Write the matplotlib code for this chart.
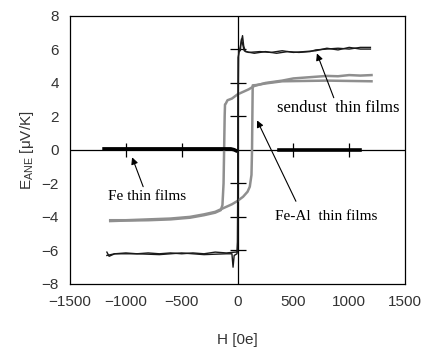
import matplotlib.pyplot as plt

plt.rcParams['font.family'] = ['Liberation Sans', 'DejaVu Sans']
plt.rcParams['mathtext.fontset'] = 'custom'
plt.rcParams['mathtext.rm'] = 'Liberation Sans'

# ---- data (H in Oe, E in uV/K) ----
# Fe thin films: flat near zero
fe_h_neg = [-1195, -1000, -800, -600, -400, -200, -60, -30, -15]
fe_e_neg = [0.05, 0.05, 0.05, 0.05, 0.05, 0.05, 0.05, 0.0, -0.05]
fe_h_pos = [370, 500, 700, 800, 900, 1000, 1100]
fe_e_pos = [0.0, 0.0, 0.0, 0.0, 0.0, 0.0, 0.0]

# sendust thin films, two branches
sd_up_h = [-1170, -1150, -1100, -1000, -900, -800, -700, -600, -500, -400, -300,
           -200, -100, -20, -5, 0, 5, 20, 45, 55, 70, 150, 250, 350, 450, 550,
           650, 700, 800, 900, 1000, 1100, 1190]
sd_up_e = [-6.1, -6.35, -6.2, -6.15, -6.2, -6.15, -6.2, -6.15, -6.2, -6.15, -6.2,
           -6.1, -6.15, -6.1, -6.1, -5.5, 5.5, 6.0, 6.8, 6.2, 5.85, 5.75, 5.85,
           5.75, 5.85, 5.8, 5.85, 5.95, 6.0, 6.05, 6.0, 6.1, 6.1]
sd_dn_h = [1190, 1100, 1000, 900, 800, 700, 600, 500, 400, 300, 200, 100, 60,
           35, 25, 10, 5, 0, -5, -30, -40, -50, -100, -300, -500, -700, -900,
           -1100, -1170]
sd_dn_e = [6.0, 6.0, 6.1, 5.95, 6.05, 5.9, 5.85, 5.8, 5.9, 5.8, 5.85, 5.8, 5.9,
           6.6, 5.9, 5.9, 2.0, -6.0, -6.2, -6.3, -7.0, -6.2, -6.2, -6.25, -6.15,
           -6.25, -6.2, -6.2, -6.3]

# Fe-Al thin films, hysteresis loop
fa_dn_h = [1200, 1100, 1000, 900, 800, 700, 600, 500, 400, 250, 150, 100, 50, 0,
           -50, -90, -105, -112, -115, -120, -125, -135, -150, -200, -300, -425,
           -600, -800, -1000, -1140]
fa_dn_e = [4.45, 4.42, 4.45, 4.38, 4.4, 4.35, 4.3, 4.25, 4.12, 3.98, 3.8, 3.6,
           3.45, 3.3, 3.05, 2.95, 2.75, 2.7, 2.0, 0.0, -2.0, -3.3, -3.6, -3.75,
           -3.9, -4.05, -4.15, -4.2, -4.22, -4.25]
fa_up_h = [-1140, -1000, -800, -600, -425, -300, -200, -150, -100, -50, 0, 50,
           90, 110, 125, 130, 133, 136, 160, 250, 400, 600, 800, 1000, 1200]
fa_up_e = [-4.2, -4.2, -4.15, -4.1, -4.0, -3.85, -3.7, -3.55, -3.4, -3.25, -3.05,
           -2.8, -2.5, -2.2, -1.5, 0.0, 2.0, 3.84, 3.85, 3.95, 4.08, 4.1, 4.12,
           4.1, 4.08]

x_ticks = [-1500, -1000, -500, 0, 500, 1000, 1500]
y_ticks = [-8, -6, -4, -2, 0, 2, 4, 6, 8]
cross_x = [-1000, -500, 500, 1000]
cross_y = [-6, -4, -2, 2, 4, 6]

fig = plt.figure(figsize=(4.28, 3.47), dpi=100)
ax = fig.add_axes([0.1636, 0.1816, 0.7827, 0.7737])

# crosshair axes through origin with small crossing ticks
ax.axhline(0, color='black', lw=0.9, zorder=1)
ax.axvline(0, color='black', lw=0.9, zorder=1)
ax.plot(cross_x, [0] * len(cross_x), ls='none', marker='|', ms=10,
        mew=0.9, color='black', zorder=1)
ax.plot([0] * len(cross_y), cross_y, ls='none', marker='_', ms=11,
        mew=0.9, color='black', zorder=1)

gray = '#8f8f8f'
ax.plot(fa_dn_h, fa_dn_e, color=gray, lw=1.8, zorder=2)
ax.plot(fa_up_h, fa_up_e, color=gray, lw=1.8, zorder=2)

ax.plot(sd_up_h, sd_up_e, color='#1a1a1a', lw=1.0, zorder=3)
ax.plot(sd_dn_h, sd_dn_e, color='#1a1a1a', lw=1.0, zorder=3)

ax.plot(fe_h_neg, fe_e_neg, color='black', lw=2.6, zorder=3)
ax.plot(fe_h_pos, fe_e_pos, color='black', lw=2.6, zorder=3)

ax.set_xlim(-1500, 1500)
ax.set_ylim(-8, 8)
ax.set_xticks(x_ticks)
ax.set_yticks(y_ticks)
ax.tick_params(length=0, labelsize=11, labelcolor='#333333', pad=8)
for s in ax.spines.values():
    s.set_linewidth(0.9)

ax.set_xlabel('H [0e]', fontsize=11, color='#333333', labelpad=17)
ax.set_ylabel(r'E$_{\rm ANE}$ [μV/K]', fontsize=11, color='#333333', labelpad=4)

arrow = dict(arrowstyle='-|>', color='black', lw=0.8, mutation_scale=10,
             shrinkA=0, shrinkB=0)
serif = ['Liberation Serif', 'DejaVu Serif']
ax.annotate('', xy=(711, 5.74), xytext=(862, 3.1), arrowprops=arrow)
ax.text(900, 2.5, 'sendust  thin films', family=serif, fontsize=12,
        ha='center', va='center')
ax.annotate('', xy=(175, 1.75), xytext=(523, -3.07), arrowprops=arrow)
ax.text(797, -4.0, 'Fe-Al  thin films', family=serif, fontsize=11,
        ha='center', va='center')
ax.annotate('', xy=(-944, -0.45), xytext=(-845, -2.2), arrowprops=arrow)
ax.text(-806, -2.8, 'Fe thin films', family=serif, fontsize=11,
        ha='center', va='center')

fig.savefig('out.png', dpi=100)
